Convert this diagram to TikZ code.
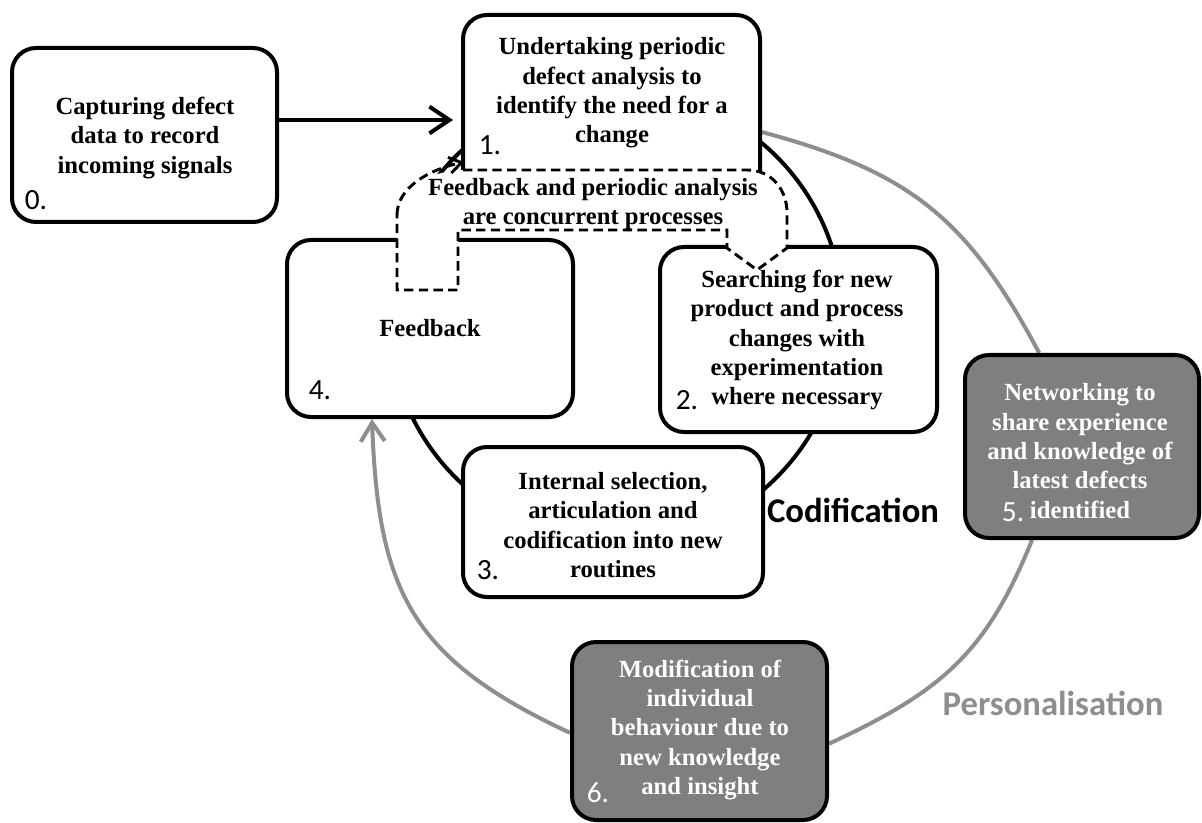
\documentclass[tikz,border=0pt]{standalone}
\usepackage{fontspec}
\setmainfont{Liberation Serif}
\newfontfamily\calibri{Carlito}
\usetikzlibrary{arrows.meta,calc,fit,backgrounds}
\definecolor{boxgray}{HTML}{7F7F7F}
\definecolor{ringgray}{HTML}{8E8E8E}

\begin{document}
\begin{tikzpicture}
  [x=0.75pt, y=0.75pt,
  box/.style={draw, line width=3pt, rounded corners=18pt, fill=white, inner sep=0pt},
  darkbox/.style={box, fill=boxgray},
  boxtext/.style={align=center, inner sep=0pt, font=\bfseries\fontsize{18.5}{22}\selectfont},
  darktext/.style={boxtext, text=white},
  num/.style={inner sep=0pt, font=\calibri\fontsize{22}{22}\selectfont},
  cyclelabel/.style={inner sep=0pt, font=\calibri\bfseries\fontsize{26}{26}\selectfont},
  loopline/.style={draw, line width=3pt},
  ring/.style={draw=ringgray, line width=3pt},
  concur/.style={draw, line width=2.2pt, dash pattern=on 7pt off 4pt},
  flow/.style={line width=3pt, -{Straight Barb[length=15pt,width=20pt]}}]
  \useasboundingbox (0,0) rectangle (1202,-823);

  % process boxes
  \node[box, fit={(12,-48) (277,-222)}] (capture) {};
  \node[box, fit={(463,-15) (760,-200)}] (analysis) {};
  \node[box, fit={(660,-247) (937,-432)}] (search) {};
  \node[box, fit={(463,-447) (763,-597)}] (select) {};
  \node[box, fit={(287,-240) (573,-417)}] (feedback) {};
  \node[darkbox, fit={(965,-355) (1199,-538)}] (network) {};
  \node[darkbox, fit={(572,-642) (827,-820)}] (modify) {};

  \node[boxtext] (capture-t) at (145,-138) {Capturing defect\\data to record\\incoming signals};
  \node[boxtext] (analysis-t) at (612,-93) {Undertaking periodic\\defect analysis to\\identify the need for a\\change};
  \node[boxtext] (search-t) at (797,-340) {Searching for new\\product and process\\changes with\\experimentation\\where necessary};
  \node[boxtext] (select-t) at (613,-525) {Internal selection,\\articulation and\\codification into new\\routines};
  \node[boxtext] (feedback-t) at (430,-328) {Feedback};
  \node[darktext] (network-t) at (1080,-451) {Networking to\\share experience\\and knowledge of\\latest defects\\identified};
  \node[darktext] (modify-t) at (700,-730) {Modification of\\individual\\behaviour due to\\new knowledge\\and insight};

  % step numbers
  \node[num] (n0) at (36,-200) {0.};
  \node[num] (n1) at (490,-145) {1.};
  \node[num] (n2) at (687,-400) {2.};
  \node[num] (n3) at (488,-570) {3.};
  \node[num] (n4) at (320,-390) {4.};
  \node[num, text=white] (n5) at (1013,-512) {5.};
  \node[num, text=white] (n6) at (598,-793) {6.};

  \node[cyclelabel] (codif) at (853,-510) {Codification};
  \node[cyclelabel, text=ringgray] (personal) at (1053,-703) {Personalisation};

  % the two cycles
  \begin{scope}[on background layer]
    \draw[loopline] (616,-317) circle[radius=227];
    \draw[ring] ($(analysis.north east)!0.63!(analysis.south east)$) to[out=-15,in=118,looseness=1.1] ($(network.north west)!0.32!(network.north east)$);
    \draw[ring] ($(network.south west)!0.29!(network.south east)$) to[out=-112,in=25,looseness=1.1] ($(modify.north east)!0.57!(modify.south east)$);
    \draw[ring, -{Straight Barb[length=14pt,width=18pt]}] ($(modify.north west)!0.51!(modify.south west)$) to[out=155,in=-88,looseness=1.2] ($(feedback.south west)!0.3!(feedback.south east)$);
  \end{scope}

  \coordinate (row) at (0,-120);
  \draw[flow, shorten >=6pt] (capture.east |- row) -- (analysis.west |- row);

  % concurrent feedback / analysis
  \fill[white] (463,-170) -- (747,-170) .. controls (772,-170) and (787,-190) .. (787,-213) -- (787,-248) -- (757,-270) -- (727,-248) -- (727,-230) -- (458,-230) -- (458,-290) -- (397,-290) -- (397,-215) .. controls (397,-190) and (425,-172) .. (463,-170) -- cycle;
  \draw[concur] (463,-170) -- (747,-170) .. controls (772,-170) and (787,-190) .. (787,-213) -- (787,-248) -- (757,-270) -- (727,-248) -- (727,-230) -- (458,-230) -- (458,-290) -- (397,-290) -- (397,-215);
  \coordinate (tip) at (464,-162);
  \draw[concur, -{Straight Barb[length=9pt,width=12pt]}] (397,-215) .. controls (397,-188) and (428,-170) .. (tip);
  \node[boxtext] (concur-t) at (593,-204) {Feedback and periodic analysis\\are concurrent processes};
\end{tikzpicture}
\end{document}
